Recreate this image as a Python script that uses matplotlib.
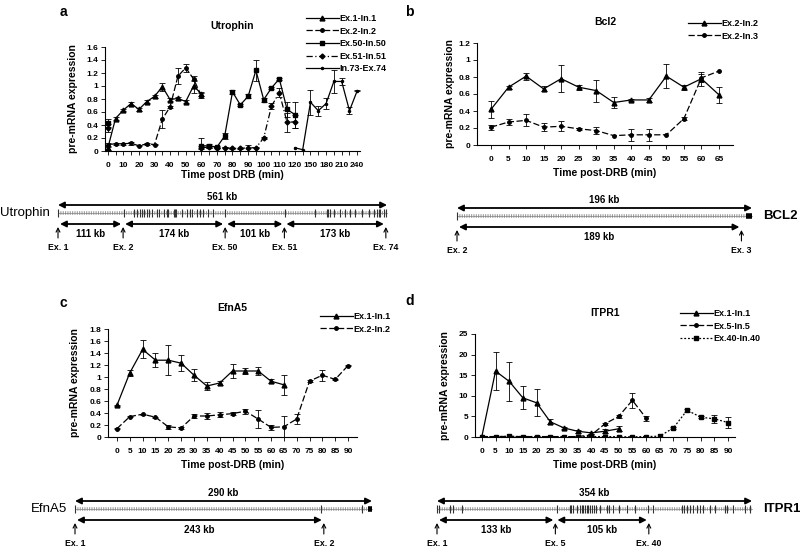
import numpy as np
import matplotlib
matplotlib.use('Agg')
import matplotlib.pyplot as plt
from matplotlib.ticker import FixedLocator, FuncFormatter

plt.rcParams['font.family'] = ['Liberation Sans', 'DejaVu Sans']
plt.rcParams['font.weight'] = 'bold'
plt.rcParams['axes.labelweight'] = 'bold'

W, H = 800, 553

# ---------------- panel a: Utrophin ----------------
a_grid = [0, 5, 10, 15, 20, 25, 30, 35, 40, 45, 50, 55, 60, 65, 70, 75, 80, 85,
          90, 95, 100, 105, 110, 115, 120, 135, 150, 165, 180, 195, 210, 225, 240]
a_t1 = [0, 5, 10, 15, 20, 25, 30, 35, 40, 45, 50, 55, 60]
a_ex1 = [0.04, 0.50, 0.63, 0.73, 0.64, 0.76, 0.84, 0.99, 0.79, 0.81, 0.76, 1.00, 0.88]
a_ex1_err = [0.02, 0.02, 0.02, 0.02, 0.02, 0.02, 0.02, 0.06, 0.02, 0.02, 0.02, 0.10, 0.03]
a_ex2 = [0.10, 0.11, 0.11, 0.12, 0.08, 0.11, 0.10, 0.49, 0.68, 1.15, 1.28, 1.11, 0.85]
a_ex2_err = [0.02, 0.01, 0.01, 0.02, 0.01, 0.01, 0.01, 0.14, 0.02, 0.12, 0.06, 0.04, 0.04]
a_t2 = [0, 60, 65, 70, 75, 80, 85, 90, 95, 100, 105, 110, 115, 120]
a_ex50 = [0.43, 0.08, 0.08, 0.06, 0.23, 0.91, 0.71, 0.84, 1.24, 0.79, 0.97, 1.11, 0.64, 0.56]
a_ex50_err = [0.06, 0.12, 0.03, 0.02, 0.05, 0.03, 0.02, 0.03, 0.16, 0.03, 0.02, 0.02, 0.12, 0.20]
a_ex51 = [0.36, 0.05, 0.06, 0.05, 0.05, 0.04, 0.04, 0.05, 0.05, 0.20, 0.69, 0.90, 0.44, 0.45]
a_ex51_err = [0.06, 0.02, 0.02, 0.01, 0.01, 0.01, 0.01, 0.05, 0.01, 0.02, 0.05, 0.07, 0.14, 0.10]
a_t3 = [120, 135, 150, 165, 180, 195, 210, 225, 240]
a_in73 = [0.05, 0.02, 0.75, 0.62, 0.73, 1.07, 1.07, 0.62, 0.93]
a_in73_err = [0, 0, 0.19, 0.08, 0.08, 0.18, 0.06, 0.05, 0.01]

# ---------------- panel b: Bcl2 ----------------
b_grid = [0, 5, 10, 15, 20, 25, 30, 35, 40, 45, 50, 55, 60, 65]
b_in2 = [0.42, 0.68, 0.81, 0.66, 0.78, 0.68, 0.64, 0.50, 0.53, 0.53, 0.81, 0.68, 0.78, 0.59]
b_in2_err = [0.10, 0.02, 0.04, 0.03, 0.16, 0.03, 0.13, 0.07, 0.01, 0.02, 0.14, 0.03, 0.08, 0.09]
b_in3 = [0.21, 0.27, 0.29, 0.21, 0.22, 0.19, 0.17, 0.11, 0.12, 0.12, 0.12, 0.31, 0.79, 0.87]
b_in3_err = [0.03, 0.04, 0.07, 0.05, 0.06, 0.01, 0.04, 0, 0.07, 0.07, 0, 0.02, 0.05, 0]

# ---------------- panel c: EfnA5 ----------------
c_grid = [0, 5, 10, 15, 20, 25, 30, 35, 40, 45, 50, 55, 60, 65, 70, 75, 80, 85, 90]
c_t1 = [0, 5, 10, 15, 20, 25, 30, 35, 40, 45, 50, 55, 60, 65]
c_ex1 = [0.53, 1.07, 1.46, 1.28, 1.28, 1.23, 1.03, 0.85, 0.90, 1.10, 1.10, 1.10, 0.93, 0.87]
c_ex1_err = [0.01, 0.05, 0.15, 0.12, 0.25, 0.13, 0.10, 0.07, 0.03, 0.11, 0.05, 0.06, 0.03, 0.17]
c_ex2 = [0.14, 0.34, 0.38, 0.33, 0.17, 0.15, 0.35, 0.35, 0.37, 0.39, 0.43, 0.30, 0.16, 0.17,
         0.30, 0.93, 1.03, 0.96, 1.19]
c_ex2_err = [0.01, 0.01, 0.01, 0.01, 0.03, 0.01, 0.03, 0.05, 0.04, 0.02, 0.04, 0.15, 0.04, 0.18,
             0.09, 0.02, 0.09, 0.01, 0.01]

# ---------------- panel d: ITPR1 ----------------
d_grid = c_grid
d_t1 = [0, 5, 10, 15, 20, 25, 30, 35, 40, 45, 50]
d_ex1 = [0.1, 16.0, 13.5, 9.5, 8.3, 3.7, 2.2, 1.4, 1.0, 1.4, 2.0]
d_ex1_err = [0, 4.7, 4.7, 2.8, 3.3, 0.6, 0.3, 0.4, 0.3, 0.5, 0.6]
d_t5 = [0, 5, 10, 15, 20, 25, 30, 35, 40, 45, 50, 55, 60]
d_ex5 = [0.1, 0.1, 0.15, 0.1, 0.1, 0.1, 0.1, 0.1, 0.5, 3.2, 5.0, 8.9, 4.6]
d_ex5_err = [0, 0, 0, 0, 0, 0, 0, 0, 0.2, 0.3, 0.3, 1.8, 0.6]
d_ex40 = [0.1, 0.1, 0.15, 0.1, 0.1, 0.1, 0.1, 0.05, 0.1, 0.1, 0.05, 0.05, 0.1, 0.2,
          2.2, 6.5, 4.8, 4.4, 3.5]
d_ex40_err = [0, 0, 0, 0, 0, 0, 0, 0, 0, 0, 0, 0, 0, 0, 0.2, 0.4, 0.3, 0.9, 1.3]

# ---------------- gene maps (kb) ----------------
utr_total = 561
utr_marks = [0, 111, 285, 386, 559]
utr_mark_labels = ['Ex. 1', 'Ex. 2', 'Ex. 50', 'Ex. 51', 'Ex. 74']
utr_seg_labels = ['111 kb', '174 kb', '101 kb', '173 kb']
utr_exons = [0, 112, 130, 134, 139, 143, 147, 151, 155, 160, 168, 173, 180, 185, 188, 197,
             200, 202, 211, 220, 225, 228, 237, 242, 248, 256, 265, 285, 387, 439, 459, 461,
             464, 470, 481, 490, 498, 507, 518, 530, 538, 544, 547, 549, 555, 560]

bcl_total = 196
bcl_marks = [0, 189]
bcl_mark_labels = ['Ex. 2', 'Ex. 3']
bcl_seg_labels = ['189 kb']
bcl_exons = [0]

efn_total = 290
efn_marks = [0, 243]
efn_mark_labels = ['Ex. 1', 'Ex. 2']
efn_seg_labels = ['243 kb']
efn_exons = [0, 240, 280]

itp_total = 354
itp_marks = [0, 133, 238]
itp_mark_labels = ['Ex. 1', 'Ex. 5', 'Ex. 40']
itp_seg_labels = ['133 kb', '105 kb']
itp_exons = [0, 2.6, 14.6, 18.4, 27.7, 134.5, 149, 151, 153, 157, 161, 163, 164, 166, 168,
             170, 172, 174, 176, 179, 183, 191, 193, 198, 204, 213, 222, 237, 243, 275, 277,
             281, 284, 288, 292, 295, 299, 307, 312, 324, 326, 333, 346, 352]

fig = plt.figure(figsize=(8, 5.53), dpi=100)


def px_axes(x0, y0, x1, y1):
    return fig.add_axes([x0 / W, 1 - y1 / H, (x1 - x0) / W, (y1 - y0) / H])


def draw_series(ax, grid, t, v, err, label, ls, marker, ms):
    x = np.arange(len(grid))
    y = np.full(len(grid), np.nan)
    e = np.full(len(grid), np.nan)
    idx = [grid.index(tt) for tt in t]
    y[idx] = v
    e[idx] = np.where(np.array(err) > 0, err, np.nan)
    ax.errorbar(x, y, yerr=e, fmt='none', ecolor='black', elinewidth=0.6,
                capsize=2, capthick=0.6)
    ax.plot(x, y, color='black', lw=0.9, ls=ls, marker=marker, ms=ms, label=label)


def style_chart(ax, box, grid, every, xpad, ymax, ystep, title, xlabel,
                ylab_px, xlab_px, leg_px):
    x0, y0, x1, y1 = box
    n = len(grid)
    ax.set_xlim(-xpad, n - 1 + xpad)
    ax.set_ylim(0, ymax)
    for s in ['top', 'right']:
        ax.spines[s].set_visible(False)
    for s in ['left', 'bottom']:
        ax.spines[s].set_linewidth(0.8)
    major = list(range(0, n, every))
    ax.xaxis.set_major_locator(FixedLocator(major))
    ax.set_xticklabels([str(grid[i]) for i in major])
    if every > 1:
        ax.xaxis.set_minor_locator(FixedLocator([i for i in range(n) if i % every]))
    ax.set_yticks(np.arange(0, ymax + ystep / 2, ystep))
    ax.yaxis.set_major_formatter(FuncFormatter(lambda v, p: '%g' % round(v, 2)))
    ax.tick_params(which='both', direction='out', length=3, width=0.6, labelsize=6, pad=2)
    ax.tick_params(axis='x', pad=5)
    for lab in ax.get_xticklabels() + ax.get_yticklabels():
        lab.set_fontweight('bold')
    ax.set_title(title, fontsize=7.5, fontweight='bold', pad=13)
    ax.set_xlabel(xlabel, fontsize=7.5)
    ax.set_ylabel('pre-mRNA expression', fontsize=7.5)
    ax.yaxis.set_label_coords((ylab_px - 5 - x0) / (x1 - x0), 0.5)
    ax.xaxis.set_label_coords(0.5, (y1 - (xlab_px - 5)) / (y1 - y0))
    ax.legend(loc='upper left', bbox_to_anchor=(leg_px[0] / W, 1 - leg_px[1] / H),
              bbox_transform=fig.transFigure, frameon=False, fontsize=6.5,
              handlelength=3.6, handletextpad=0.1, labelspacing=0.4,
              borderpad=0, borderaxespad=0)


# panel a
box_a = (105, 47, 360, 151)
ax = px_axes(*box_a)
draw_series(ax, a_grid, a_t1, a_ex1, a_ex1_err, 'Ex.1-In.1', '-', '^', 3.5)
draw_series(ax, a_grid, a_t1, a_ex2, a_ex2_err, 'Ex.2-In.2', (0, (5, 2)), 'o', 2.5)
draw_series(ax, a_grid, a_t2, a_ex50, a_ex50_err, 'Ex.50-In.50', '-', 's', 3)
draw_series(ax, a_grid, a_t2, a_ex51, a_ex51_err, 'Ex.51-In.51', (0, (5, 2, 1, 2)), 'D', 2.5)
draw_series(ax, a_grid, a_t3, a_in73, a_in73_err, 'In.73-Ex.74', '-', '.', 3)
style_chart(ax, box_a, a_grid, 2, 0.35, 1.6, 0.2, 'Utrophin', 'Time post DRB (min)',
            83, 175, (306, 14))

# panel b
box_b = (477, 43, 733, 145)
ax = px_axes(*box_b)
draw_series(ax, b_grid, b_grid, b_in2, b_in2_err, 'Ex.2-In.2', '-', '^', 3.5)
draw_series(ax, b_grid, b_grid, b_in3, b_in3_err, 'Ex.2-In.3', (0, (5, 2)), 'o', 2.5)
style_chart(ax, box_b, b_grid, 1, 0.8, 1.2, 0.2, 'Bcl2', 'Time post-DRB (min)',
            460, 173, (688, 19))

# panel c
box_c = (108, 329, 357, 437)
ax = px_axes(*box_c)
draw_series(ax, c_grid, c_t1, c_ex1, c_ex1_err, 'Ex.1-In.1', '-', '^', 3.5)
draw_series(ax, c_grid, c_grid, c_ex2, c_ex2_err, 'Ex.2-In.2', (0, (5, 2)), 'o', 2.5)
style_chart(ax, box_c, c_grid, 1, 0.7, 1.8, 0.2, 'EfnA5', 'Time post-DRB (min)',
            85, 465, (320, 312))

# panel d
box_d = (475, 334, 735, 437)
ax = px_axes(*box_d)
draw_series(ax, d_grid, d_t1, d_ex1, d_ex1_err, 'Ex.1-In.1', '-', '^', 3.5)
draw_series(ax, d_grid, d_t5, d_ex5, d_ex5_err, 'Ex.5-In.5', (0, (5, 2)), 'o', 2.5)
draw_series(ax, d_grid, d_grid, d_ex40, d_ex40_err, 'Ex.40-In.40', (0, (1.5, 1.5)), 's', 3)
style_chart(ax, box_d, d_grid, 1, 0.5, 25, 5, 'ITPR1', 'Time post-DRB (min)',
            455, 465, (680, 309))


def gene_map(px0, px_per_kb, ly, total, exons, marks, mark_labels, seg_labels,
             name, name_left, block=False):
    x0, x1 = 0, W
    y0, y1 = ly - 25, ly + 42
    ax = px_axes(x0, y0, x1, y1)
    ax.set_xlim((x0 - px0) / px_per_kb, (x1 - px0) / px_per_kb)
    ax.set_ylim(y1, y0)
    ax.axis('off')
    arrow = dict(arrowstyle='<|-|>', color='black', lw=1.3, mutation_scale=9,
                 shrinkA=0, shrinkB=0)
    # total length arrow
    ax.annotate('', xy=(total, ly - 8), xytext=(0, ly - 8), arrowprops=arrow)
    ax.text(total / 2, ly - 11, '%d kb' % total, ha='center', va='bottom', fontsize=7)
    # gene body
    ax.plot([0, total], [ly, ly], color='0.6', lw=2.6, ls=(0, (0.3, 0.35)), solid_capstyle='butt')
    ax.plot([0, total], [ly, ly], color='0.5', lw=0.5)
    ax.vlines(exons, ly - 4, ly + 4, color='0.2', lw=0.8)
    if block:
        ax.plot([total - 4, total], [ly, ly], color='black', lw=4, solid_capstyle='butt')
    # segment arrows
    gap = 2.0 / px_per_kb
    for i, lab in enumerate(seg_labels):
        a, b = marks[i], marks[i + 1]
        ax.annotate('', xy=(b - gap, ly + 11), xytext=(a + gap, ly + 11), arrowprops=arrow)
        ax.text((a + b) / 2, ly + 16, lab, ha='center', va='top', fontsize=7)
    # exon pointers
    for m, lab in zip(marks, mark_labels):
        ax.annotate('', xy=(m, ly + 14), xytext=(m, ly + 25),
                    arrowprops=dict(arrowstyle='->', color='black', lw=0.8,
                                    mutation_scale=7, shrinkA=0, shrinkB=0))
        ax.text(m, ly + 30, lab, ha='center', va='top', fontsize=6.3)
    if name_left:
        ax.text(-8 / px_per_kb, ly, name, ha='right', va='center', fontsize=9.5, fontweight='normal')
    else:
        ax.text(total + 11 / px_per_kb, ly, name, ha='left', va='center', fontsize=9.5)


gene_map(58, 0.5865, 213, utr_total, utr_exons, utr_marks, utr_mark_labels,
         utr_seg_labels, 'Utrophin', True)
gene_map(457, 1.505, 216, bcl_total, bcl_exons, bcl_marks, bcl_mark_labels,
         bcl_seg_labels, 'BCL2', False, block=True)
gene_map(75, 1.024, 509, efn_total, efn_exons, efn_marks, efn_mark_labels,
         efn_seg_labels, 'EfnA5', True, block=True)
gene_map(437, 0.89, 509, itp_total, itp_exons, itp_marks, itp_mark_labels,
         itp_seg_labels, 'ITPR1', False)

# panel letters
for lab, x, y in [('a', 60, 12), ('b', 405, 12), ('c', 60, 303), ('d', 405, 301)]:
    fig.text(x / W, 1 - y / H, lab, fontsize=10, fontweight='bold', va='center')

fig.savefig('out.png', dpi=100)
